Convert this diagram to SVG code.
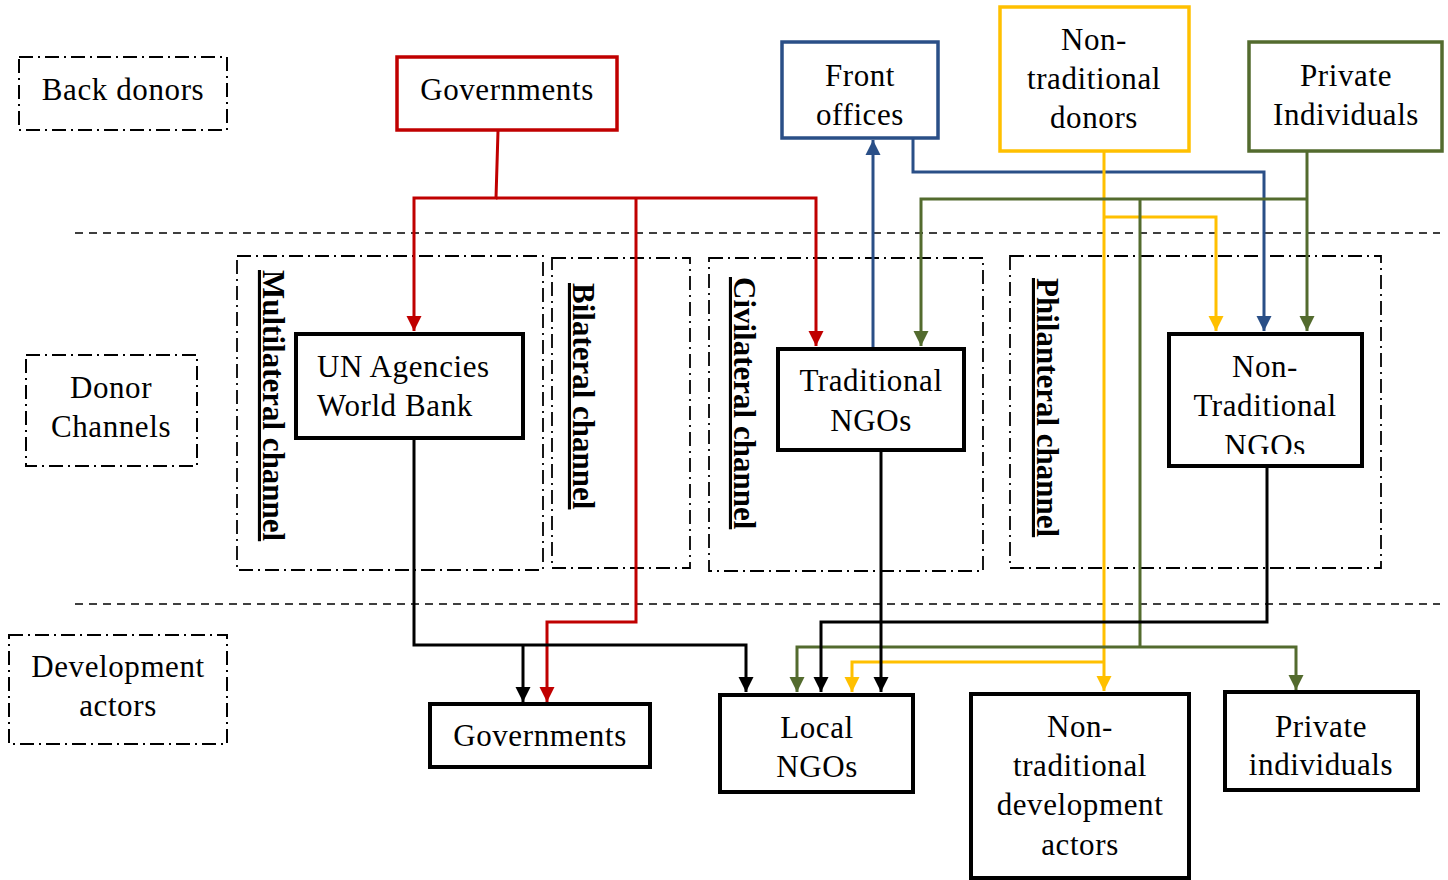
<svg xmlns="http://www.w3.org/2000/svg" width="1448" height="880" viewBox="0 0 1448 880">
  <style>
    .t { font-family: "Liberation Serif", "Times New Roman", serif; font-size: 31px; fill: #000; text-anchor: middle; letter-spacing: 0.6px; }
    .tl { text-anchor: start; }
    .vlab { font-family: "Liberation Serif", "Times New Roman", serif; font-size: 31px; font-weight: bold; fill: #000; text-decoration: underline; }
    .legend { fill: #fff; stroke: #000; stroke-width: 2; stroke-dasharray: 14 5 2 5; }
    .chan { fill: none; stroke: #000; stroke-width: 1.8; stroke-dasharray: 14 5 2 5; }
    .sep { fill: none; stroke: #000; stroke-width: 1.6; stroke-dasharray: 8 6; }
    .box { fill: #fff; stroke: #000; stroke-width: 4; }
    .c { fill: none; stroke-width: 3; stroke-linejoin: miter; }
    .red { stroke: #C00000; }
    .blue { stroke: #2A4F87; }
    .yel { stroke: #FFC000; }
    .grn { stroke: #536B2E; }
    .blk { stroke: #000; }
  </style>
  <defs>
    <marker id="ah-red" markerUnits="userSpaceOnUse" markerWidth="16" markerHeight="16" refX="15" refY="8" orient="auto"><path d="M0,0.5 L15,8 L0,15.5 z" fill="#C00000"/></marker>
    <marker id="ah-blue" markerUnits="userSpaceOnUse" markerWidth="16" markerHeight="16" refX="15" refY="8" orient="auto"><path d="M0,0.5 L15,8 L0,15.5 z" fill="#2A4F87"/></marker>
    <marker id="ah-yel" markerUnits="userSpaceOnUse" markerWidth="16" markerHeight="16" refX="15" refY="8" orient="auto"><path d="M0,0.5 L15,8 L0,15.5 z" fill="#FFC000"/></marker>
    <marker id="ah-grn" markerUnits="userSpaceOnUse" markerWidth="16" markerHeight="16" refX="15" refY="8" orient="auto"><path d="M0,0.5 L15,8 L0,15.5 z" fill="#536B2E"/></marker>
    <marker id="ah-blk" markerUnits="userSpaceOnUse" markerWidth="16" markerHeight="16" refX="15" refY="8" orient="auto"><path d="M0,0.5 L15,8 L0,15.5 z" fill="#000"/></marker>
    <clipPath id="ntngo-clip"><rect x="1170" y="335" width="190" height="119"/></clipPath>
  </defs>

  <rect width="1448" height="880" fill="#fff"/>

  <!-- tier separators -->
  <line class="sep" x1="75" y1="233" x2="1440" y2="233"/>
  <line class="sep" x1="75" y1="604" x2="1440" y2="604"/>

  <!-- tier legends -->
  <g id="legend-back-donors">
    <rect class="legend" x="19" y="57" width="208" height="73"/>
    <text class="t" x="123" y="100">Back donors</text>
  </g>
  <g id="legend-donor-channels">
    <rect class="legend" x="26" y="355" width="171" height="111"/>
    <text class="t" x="111" y="398">Donor</text>
    <text class="t" x="111" y="437">Channels</text>
  </g>
  <g id="legend-development-actors">
    <rect class="legend" x="9" y="635" width="218" height="109"/>
    <text class="t" x="118" y="677">Development</text>
    <text class="t" x="118" y="716">actors</text>
  </g>

  <!-- channel frames -->
  <g id="channel-multilateral">
    <rect class="chan" x="237" y="256" width="306" height="314"/>
    <text class="vlab" transform="translate(263,270) rotate(90)">Multilateral channel</text>
  </g>
  <g id="channel-bilateral">
    <rect class="chan" x="552" y="258" width="138" height="310"/>
    <text class="vlab" transform="translate(573,283) rotate(90)">Bilateral channel</text>
  </g>
  <g id="channel-civilateral">
    <rect class="chan" x="709" y="258" width="274" height="313"/>
    <text class="vlab" transform="translate(734,277) rotate(90)">Civilateral channel</text>
  </g>
  <g id="channel-philanteral">
    <rect class="chan" x="1010" y="256" width="371" height="312"/>
    <text class="vlab" transform="translate(1037,278) rotate(90)">Philanteral channel</text>
  </g>

  <!-- connectors -->
  <g id="connectors">
    <path class="c red" d="M498,131 L496,198 L414,198 L414,331" marker-end="url(#ah-red)"/>
    <path class="c red" d="M496,198 L816,198 L816,346" marker-end="url(#ah-red)"/>
    <path class="c red" d="M636,198 L636,622 L547,622 L547,702" marker-end="url(#ah-red)"/>

    <path class="c blue" d="M873,347 L873,140" marker-end="url(#ah-blue)"/>
    <path class="c blue" d="M913,139 L913,172 L1264,172 L1264,331" marker-end="url(#ah-blue)"/>

    <path class="c yel" d="M1104,152 L1104,691" marker-end="url(#ah-yel)"/>
    <path class="c yel" d="M1104,217 L1216,217 L1216,331" marker-end="url(#ah-yel)"/>
    <path class="c yel" d="M1104,662 L852,662 L852,692" marker-end="url(#ah-yel)"/>

    <path class="c grn" d="M1307,152 L1307,331" marker-end="url(#ah-grn)"/>
    <path class="c grn" d="M1307,199 L921,199 L921,346" marker-end="url(#ah-grn)"/>
    <path class="c grn" d="M1140,199 L1140,647"/>
    <path class="c grn" d="M1140,647 L797,647 L797,692" marker-end="url(#ah-grn)"/>
    <path class="c grn" d="M1140,647 L1296,647 L1296,690" marker-end="url(#ah-grn)"/>

    <path class="c blk" d="M414,438 L414,645 L746,645 L746,692" marker-end="url(#ah-blk)"/>
    <path class="c blk" d="M523,645 L523,702" marker-end="url(#ah-blk)"/>
    <path class="c blk" d="M881,450 L881,692" marker-end="url(#ah-blk)"/>
    <path class="c blk" d="M1267,466 L1267,622 L821,622 L821,692" marker-end="url(#ah-blk)"/>
  </g>

  <!-- back donors -->
  <g id="node-governments-donor">
    <rect x="397" y="57" width="220" height="73" fill="#fff" stroke="#C00000" stroke-width="3.5"/>
    <text class="t" x="507" y="100">Governments</text>
  </g>
  <g id="node-front-offices">
    <rect x="782" y="42" width="156" height="96" fill="#fff" stroke="#2A4F87" stroke-width="3.5"/>
    <text class="t" x="860" y="86">Front</text>
    <text class="t" x="860" y="125">offices</text>
  </g>
  <g id="node-non-traditional-donors">
    <rect x="1000" y="7" width="189" height="144" fill="#fff" stroke="#FFC000" stroke-width="3.5"/>
    <text class="t" x="1094" y="50">Non-</text>
    <text class="t" x="1094" y="89">traditional</text>
    <text class="t" x="1094" y="128">donors</text>
  </g>
  <g id="node-private-individuals-donor">
    <rect x="1249" y="42" width="193" height="109" fill="#fff" stroke="#536B2E" stroke-width="3.5"/>
    <text class="t" x="1346" y="86">Private</text>
    <text class="t" x="1346" y="125">Individuals</text>
  </g>

  <!-- donor channels -->
  <g id="node-un-agencies">
    <rect class="box" x="296" y="334" width="227" height="104"/>
    <text class="t tl" x="317" y="377">UN Agencies</text>
    <text class="t tl" x="317" y="416">World Bank</text>
  </g>
  <g id="node-traditional-ngos">
    <rect class="box" x="778" y="349" width="186" height="101"/>
    <text class="t" x="871" y="391">Traditional</text>
    <text class="t" x="871" y="431">NGOs</text>
  </g>
  <g id="node-non-traditional-ngos">
    <rect class="box" x="1169" y="334" width="193" height="132"/>
    <g clip-path="url(#ntngo-clip)">
      <text class="t" x="1265" y="377">Non-</text>
      <text class="t" x="1265" y="416">Traditional</text>
      <text class="t" x="1265" y="456">NGOs</text>
    </g>
  </g>

  <!-- development actors -->
  <g id="node-governments-actor">
    <rect class="box" x="430" y="704" width="220" height="63"/>
    <text class="t" x="540" y="746">Governments</text>
  </g>
  <g id="node-local-ngos">
    <rect class="box" x="720" y="695" width="193" height="97"/>
    <text class="t" x="817" y="738">Local</text>
    <text class="t" x="817" y="777">NGOs</text>
  </g>
  <g id="node-non-traditional-actors">
    <rect class="box" x="971" y="694" width="218" height="184"/>
    <text class="t" x="1080" y="737">Non-</text>
    <text class="t" x="1080" y="776">traditional</text>
    <text class="t" x="1080" y="815">development</text>
    <text class="t" x="1080" y="855">actors</text>
  </g>
  <g id="node-private-individuals-actor">
    <rect class="box" x="1225" y="692" width="193" height="98"/>
    <text class="t" x="1321" y="737">Private</text>
    <text class="t" x="1321" y="775">individuals</text>
  </g>
</svg>
